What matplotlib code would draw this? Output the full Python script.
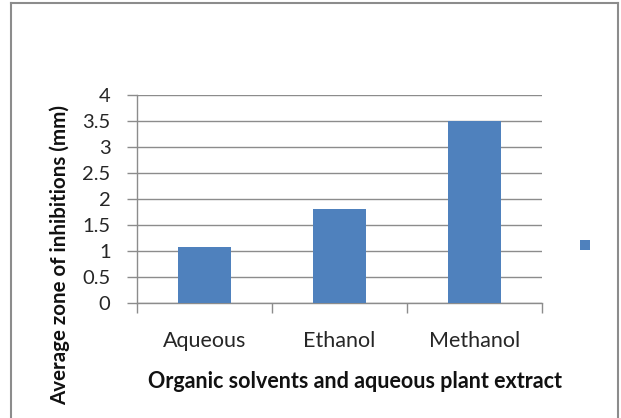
import matplotlib
matplotlib.use("Agg")
import matplotlib.pyplot as plt
from matplotlib.lines import Line2D

categories = ["Aqueous", "Ethanol", "Methanol"]
values = [1.08, 1.8, 3.5]
yticks = [0, 0.5, 1, 1.5, 2, 2.5, 3, 3.5, 4]
ytick_labels = ["0", "0.5", "1", "1.5", "2", "2.5", "3", "3.5", "4"]
xlabel = "Organic solvents and aqueous plant extract"
ylabel = "Average zone of inhibitions (mm)"

plt.rcParams['font.family'] = ['Lato', 'DejaVu Sans']

W, H = 621, 418
fig = plt.figure(figsize=(W / 100, H / 100), dpi=100)
fig.patch.set_facecolor("white")

ax = fig.add_axes([137 / W, 1 - 303 / H, (542 - 137) / W, (303 - 95) / H])
grid_c = "#8c8c8c"
bar_c = "#4f81bd"

x = list(range(len(categories)))
bars = ax.bar(x, values, width=0.39, color=bar_c, zorder=3)

ax.set_xlim(-0.5, len(categories) - 0.5)
ax.set_ylim(0, 4)
ax.set_yticks(yticks)
ax.set_yticklabels(ytick_labels, fontsize=14.5, color="#262626")
ax.set_xticks(x)
ax.set_xticklabels(categories, fontsize=15.5, color="#262626")
ax.tick_params(axis='x', length=0, pad=20)
ax.tick_params(axis='y', length=7, color=grid_c, width=1, pad=12)
# category boundary ticks on x axis
ax.set_xticks([-0.5, 0.5, 1.5, 2.5], minor=True)
ax.tick_params(axis='x', which='minor', length=7, color=grid_c, width=1)

ax.yaxis.grid(True, color=grid_c, linewidth=1)
ax.set_axisbelow(True)
for s in ["top", "right"]:
    ax.spines[s].set_visible(False)
for s in ["left", "bottom"]:
    ax.spines[s].set_color(grid_c)
    ax.spines[s].set_linewidth(1)

fig.text(0.5 * (147 + 563) / W, 1 - 381 / H, xlabel, fontsize=15.5, fontweight='bold',
         ha='center', va='center', color="#111111")
fig.text(60 / W, 1 - 255 / H, ylabel, fontsize=14.8, fontweight='bold',
         rotation=90, ha='center', va='center', color="#111111")

# legend marker without text
leg = fig.legend(handles=[bars.patches[0]], labels=[""], loc='center',
                 bbox_to_anchor=(585 / W, 1 - 246 / H), frameon=False,
                 handlelength=0.75, handleheight=0.75, handletextpad=0, borderpad=0)

# outer chart border (top, left, right)
fig.add_artist(Line2D([11 / W, 11 / W], [0, 1 - 3 / H], transform=fig.transFigure, color="#8c8c8c", lw=1.5))
fig.add_artist(Line2D([11 / W, 618 / W], [1 - 3 / H, 1 - 3 / H], transform=fig.transFigure, color="#8c8c8c", lw=1.5))
fig.add_artist(Line2D([618 / W, 618 / W], [0, 1 - 3 / H], transform=fig.transFigure, color="#8c8c8c", lw=1.5))

fig.savefig("out.png", dpi=100, facecolor="white")
